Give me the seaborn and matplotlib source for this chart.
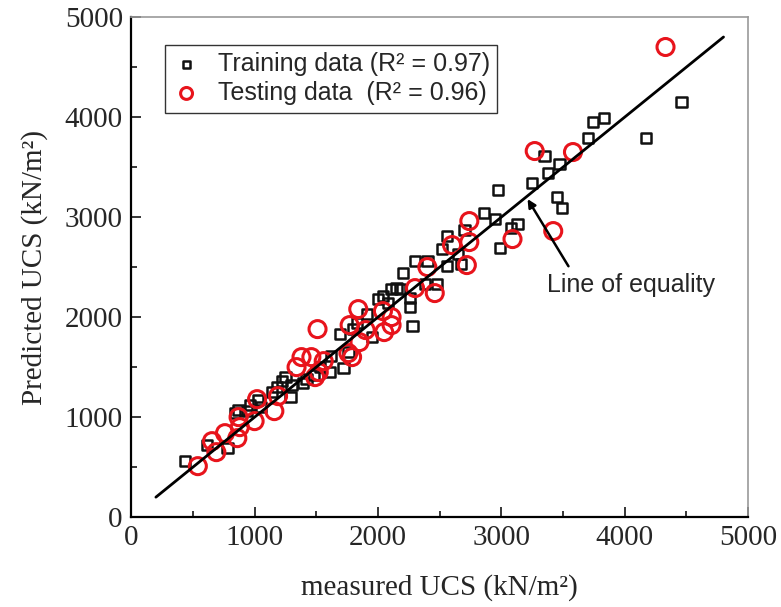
import numpy as np
import pandas as pd
import matplotlib
matplotlib.use("Agg")
import matplotlib.pyplot as plt
import seaborn as sns
from matplotlib.ticker import MultipleLocator

# ---- data ----
train_measured = [437, 615, 780, 840, 870, 940, 960, 1030, 1050, 1140, 1180, 1220, 1250, 1290,
                  1300, 1390, 1420, 1480, 1530, 1610, 1620, 1690, 1720, 1760, 1800, 1830,
                  1910, 1950, 2000, 2040, 2080, 2110, 2150, 2180, 2200, 2260, 2260, 2280,
                  2300, 2380, 2400, 2480, 2520, 2560, 2560, 2650, 2670, 2700, 2860, 2950,
                  2970, 2990, 3080, 3130, 3250, 3350, 3380, 3450, 3470, 3490, 3700, 3740,
                  3830, 4170, 4460]
train_predicted = [560, 720, 690, 1040, 1070, 1060, 1120, 1170, 1100, 1250, 1300, 1360, 1400, 1200,
                   1320, 1340, 1380, 1420, 1500, 1450, 1610, 1830, 1490, 1650, 1880, 1940,
                   2030, 1800, 2180, 2210, 2140, 2280, 2290, 2280, 2440, 2190, 2100, 1910,
                   2560, 2330, 2560, 2330, 2680, 2810, 2510, 2630, 2530, 2870, 3040, 2980,
                   3270, 2690, 2890, 2930, 3340, 3610, 3440, 3200, 3530, 3090, 3790, 3950,
                   3990, 3790, 4150]

test_measured = [540, 655, 690, 760, 860, 870, 880, 1000, 1020, 1160, 1190, 1340, 1380, 1460,
                 1490, 1510, 1520, 1560, 1760, 1770, 1790, 1840, 1850, 1900, 2040, 2050,
                 2110, 2110, 2300, 2400, 2460, 2600, 2720, 2740, 2740, 3090, 3270, 3420,
                 3580, 4330]
test_predicted = [510, 760, 650, 840, 790, 1000, 900, 960, 1180, 1060, 1210, 1500, 1600, 1600,
                  1400, 1880, 1450, 1560, 1640, 1920, 1600, 2080, 1750, 1870, 2060, 1850,
                  1920, 2000, 2290, 2500, 2240, 2720, 2520, 2750, 2960, 2780, 3660, 2860,
                  3650, 4700]

equality_x = [200, 4800]
equality_y = [200, 4800]

train_label = "Training data (R² = 0.97)"
test_label = "Testing data  (R² = 0.96)"
x_label = "measured UCS (kN/m²)"
y_label = "Predicted UCS (kN/m²)"
annot_text = "Line of equality"

train_df = pd.DataFrame({"measured": train_measured, "predicted": train_predicted})
test_df = pd.DataFrame({"measured": test_measured, "predicted": test_predicted})
line_df = pd.DataFrame({"x": equality_x, "y": equality_y})

# ---- figure ----
sns.set_style("ticks")
serif = ["Liberation Serif", "DejaVu Serif"]
sans = ["Liberation Sans", "DejaVu Sans"]

fig = plt.figure(figsize=(7.81, 6.07), dpi=100)
ax = fig.add_axes([0.168, 0.148, 0.790, 0.824])

sns.lineplot(data=line_df, x="x", y="y", ax=ax, color="black", linewidth=2.0,
             legend=False, zorder=3)
sns.scatterplot(data=train_df, x="measured", y="predicted", ax=ax, marker="s",
                s=55, facecolor="none", edgecolor="#111111", linewidth=1.8,
                label=train_label, zorder=2)
sns.scatterplot(data=test_df, x="measured", y="predicted", ax=ax, marker="o",
                s=150, facecolor="none", edgecolor="#e8141c", linewidth=2.2,
                label=test_label, zorder=2)

ax.set_xlim(0, 5000)
ax.set_ylim(0, 5000)
ax.xaxis.set_major_locator(MultipleLocator(1000))
ax.xaxis.set_minor_locator(MultipleLocator(500))
ax.yaxis.set_major_locator(MultipleLocator(1000))
ax.yaxis.set_minor_locator(MultipleLocator(500))
ax.tick_params(which="both", direction="in", top=False, right=False, width=1.3)
ax.tick_params(which="major", length=7, labelsize=21, pad=6)
ax.tick_params(which="minor", length=4)
for lab in ax.get_xticklabels() + ax.get_yticklabels():
    lab.set_family(serif)

for side in ["left", "bottom"]:
    ax.spines[side].set_color("black")
    ax.spines[side].set_linewidth(1.6)
for side in ["top", "right"]:
    ax.spines[side].set_visible(True)
    ax.spines[side].set_color("#999999")
    ax.spines[side].set_linewidth(1.2)

ax.set_xlabel(x_label, fontsize=21, family=serif, labelpad=16)
ax.set_ylabel(y_label, fontsize=21, family=serif, labelpad=12)

leg = ax.legend(loc="upper left", bbox_to_anchor=(0.035, 0.97), frameon=True,
                fancybox=False, edgecolor="#333333", framealpha=1,
                prop={"family": sans, "size": 18}, handletextpad=0.7,
                borderpad=0.3, labelspacing=0.2, handlelength=1.1,
                markerscale=0.7)
leg.get_frame().set_linewidth(1.0)

ax.annotate(annot_text, xy=(3212, 3180), xytext=(3373, 2320),
            fontsize=18, family=sans, va="center", ha="left",
            arrowprops=dict(arrowstyle="-|>", color="black", lw=1.8,
                            shrinkA=3, shrinkB=0, mutation_scale=12,
                            relpos=(0.15, 1.0)))

fig.savefig("out.png", dpi=100)
